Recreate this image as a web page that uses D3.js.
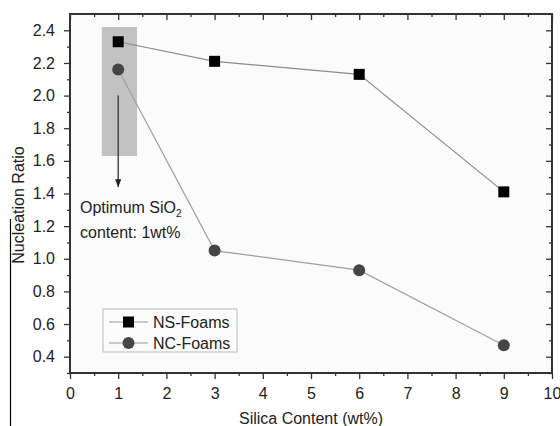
<!DOCTYPE html>
<html>
<head>
<meta charset="utf-8">
<script src="https://cdn.jsdelivr.net/npm/d3@7"></script>
<style>
  body { margin: 0; background: #fff; }
  text { font-family: "Liberation Sans", Arial, sans-serif; fill: #222; }
</style>
</head>
<body>
<svg width="560" height="426"></svg>
<script>
var silica = [1, 3, 6, 9];
var nsFoams = [2.33, 2.21, 2.13, 1.41];
var ncFoams = [2.16, 1.05, 0.93, 0.47];
var xTicks = [0, 1, 2, 3, 4, 5, 6, 7, 8, 9, 10];
var yTicks = [0.4, 0.6, 0.8, 1.0, 1.2, 1.4, 1.6, 1.8, 2.0, 2.2, 2.4];
var highlight = { x0: 0.66, x1: 1.39, y0: 1.63, y1: 2.42 };
var arrow = { x: 1, from: 2.0, to: 1.44 };

var svg = d3.select("svg"),
    margin = { left: 70, top: 14, right: 8, bottom: 53 },
    width = +svg.attr("width"),
    height = +svg.attr("height");

var x = d3.scaleLinear().domain([0, 10]).range([margin.left, width - margin.right]);
var y = d3.scaleLinear().domain([0.3, 2.5]).range([height - margin.bottom, margin.top]);

var axisColor = "#333";
var fs = 16;

svg.append("rect")
  .attr("x", x(0)).attr("y", y(2.5))
  .attr("width", x(10) - x(0)).attr("height", y(0.3) - y(2.5))
  .attr("fill", "#fbfbfb");

// highlight box + arrow
svg.append("rect")
  .attr("x", x(highlight.x0)).attr("y", y(highlight.y1))
  .attr("width", x(highlight.x1) - x(highlight.x0))
  .attr("height", y(highlight.y0) - y(highlight.y1))
  .attr("fill", "#c2c2c2");

svg.append("defs").append("marker")
  .attr("id", "head")
  .attr("viewBox", "0 0 10 10")
  .attr("refX", 10).attr("refY", 5)
  .attr("markerWidth", 6).attr("markerHeight", 6)
  .attr("orient", "auto")
  .append("path").attr("d", "M0,1 L10,5 L0,9 Z").attr("fill", "#222");

svg.append("line")
  .attr("x1", x(arrow.x)).attr("x2", x(arrow.x))
  .attr("y1", y(arrow.from)).attr("y2", y(arrow.to))
  .attr("stroke", "#333").attr("stroke-width", 1.3)
  .attr("marker-end", "url(#head)");

// series
var lineGen = d3.line()
  .x(function(d) { return x(d[0]); })
  .y(function(d) { return y(d[1]); });

var ns = silica.map(function(s, i) { return [s, nsFoams[i]]; });
var nc = silica.map(function(s, i) { return [s, ncFoams[i]]; });

svg.append("path").datum(ns).attr("d", lineGen)
  .attr("fill", "none").attr("stroke", "#8c8c8c").attr("stroke-width", 1.2);
svg.append("path").datum(nc).attr("d", lineGen)
  .attr("fill", "none").attr("stroke", "#a0a0a0").attr("stroke-width", 1.2);

svg.append("g").selectAll("rect")
  .data(ns).enter().append("rect")
  .attr("x", function(d) { return x(d[0]) - 5.5; })
  .attr("y", function(d) { return y(d[1]) - 5.5; })
  .attr("width", 11).attr("height", 11)
  .attr("fill", "#000");

svg.append("g").selectAll("circle")
  .data(nc).enter().append("circle")
  .attr("cx", function(d) { return x(d[0]); })
  .attr("cy", function(d) { return y(d[1]); })
  .attr("r", 6)
  .attr("fill", "#454545");

// axes
var xMinor = d3.range(0.5, 10, 1);
var yMinor = d3.range(0.3, 2.5, 0.2).map(function(v) { return +v.toFixed(1); });

function styleAxis(g) {
  g.select(".domain").remove();
  g.selectAll("line").attr("stroke", axisColor).attr("stroke-width", 1.3);
  g.selectAll("text").attr("font-size", fs).attr("fill", "#222");
}

svg.append("g")
  .attr("transform", "translate(0," + y(0.3) + ")")
  .call(d3.axisBottom(x).tickValues(xTicks).tickFormat(d3.format("d")).tickSize(6).tickPadding(9))
  .call(styleAxis);
svg.append("g")
  .attr("transform", "translate(0," + y(0.3) + ")")
  .call(d3.axisBottom(x).tickValues(xMinor).tickFormat("").tickSize(3))
  .call(styleAxis);

svg.append("g")
  .attr("transform", "translate(" + x(0) + ",0)")
  .call(d3.axisLeft(y).tickValues(yTicks).tickFormat(d3.format(".1f")).tickSize(6).tickPadding(9))
  .call(styleAxis);
svg.append("g")
  .attr("transform", "translate(" + x(0) + ",0)")
  .call(d3.axisLeft(y).tickValues(yMinor).tickFormat("").tickSize(3))
  .call(styleAxis);

// top & right: inward ticks, no labels
svg.append("g")
  .attr("transform", "translate(0," + y(2.5) + ")")
  .call(d3.axisBottom(x).tickValues(xTicks).tickFormat("").tickSize(6))
  .call(styleAxis);
svg.append("g")
  .attr("transform", "translate(0," + y(2.5) + ")")
  .call(d3.axisBottom(x).tickValues(xMinor).tickFormat("").tickSize(3))
  .call(styleAxis);
svg.append("g")
  .attr("transform", "translate(" + x(10) + ",0)")
  .call(d3.axisLeft(y).tickValues(yTicks).tickFormat("").tickSize(6))
  .call(styleAxis);
svg.append("g")
  .attr("transform", "translate(" + x(10) + ",0)")
  .call(d3.axisLeft(y).tickValues(yMinor).tickFormat("").tickSize(3))
  .call(styleAxis);

svg.append("rect")
  .attr("x", x(0)).attr("y", y(2.5))
  .attr("width", x(10) - x(0)).attr("height", y(0.3) - y(2.5))
  .attr("fill", "none").attr("stroke", axisColor).attr("stroke-width", 2);

// annotation
var note = svg.append("text").attr("x", 80).attr("y", 213).attr("font-size", fs);
note.append("tspan").text("Optimum SiO");
note.append("tspan").attr("font-size", 10).attr("dy", 4).text("2");
svg.append("text").attr("x", 80).attr("y", 238).attr("font-size", fs).text("content: 1wt%");

// legend
var legend = svg.append("g").attr("transform", "translate(103,309)");
legend.append("rect")
  .attr("width", 134).attr("height", 43)
  .attr("fill", "#fbfbfb").attr("stroke", "#bbb").attr("stroke-width", 1);
var items = [
  { name: "NS-Foams", shape: "square", color: "#000" },
  { name: "NC-Foams", shape: "circle", color: "#454545" }
];
items.forEach(function(it, i) {
  var cy = 13 + i * 21;
  legend.append("line").attr("x1", 6).attr("x2", 45).attr("y1", cy).attr("y2", cy)
    .attr("stroke", "#999").attr("stroke-width", 1.2);
  if (it.shape === "square") {
    legend.append("rect").attr("x", 20).attr("y", cy - 5.5).attr("width", 11).attr("height", 11).attr("fill", it.color);
  } else {
    legend.append("circle").attr("cx", 25.5).attr("cy", cy).attr("r", 6).attr("fill", it.color);
  }
  legend.append("text").attr("x", 50).attr("y", cy + 6).attr("font-size", fs).text(it.name);
});

// axis titles
svg.append("text")
  .attr("x", 311).attr("y", 424)
  .attr("text-anchor", "middle").attr("font-size", fs)
  .text("Silica Content (wt%)");

svg.append("text")
  .attr("transform", "translate(24," + 205 + ") rotate(-90)")
  .attr("text-anchor", "middle").attr("font-size", fs)
  .text("Nucleation Ratio");

// stray vertical rule at the left edge
svg.append("line")
  .attr("x1", 10.5).attr("x2", 10.5).attr("y1", 219).attr("y2", 426)
  .attr("stroke", "#000").attr("stroke-width", 1.2);
</script>
</body>
</html>
